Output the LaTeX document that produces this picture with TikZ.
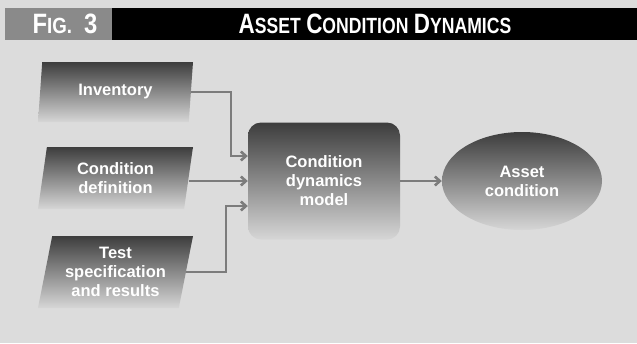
\documentclass[tikz,border=0pt]{standalone}
\usepackage{fontspec}
\setmainfont{Liberation Sans}
\usetikzlibrary{shapes.geometric,arrows.meta}
\definecolor{bg}{HTML}{DCDCDC}
\definecolor{ln}{HTML}{7C7C7C}
\definecolor{hdgray}{HTML}{8A8A8A}
\tikzset{
  shade/.style={top color=black!76, bottom color=black!16, draw=none, text=white,
    font=\bfseries\fontsize{16.5}{19}\selectfont, align=center, inner sep=0pt},
  inbox/.style={shade, trapezium, trapezium left angle=74, trapezium right angle=106,
    trapezium stretches body, minimum width=155pt},
  modelbox/.style={shade, rectangle, rounded corners=13pt, minimum width=152pt, minimum height=117pt},
  outbox/.style={shade, ellipse, minimum width=160pt, minimum height=98pt},
  arr/.style={draw=ln, line width=2.6pt, -{Straight Barb[length=5pt,width=9pt]}},
  hdtext/.style={text=white, font=\bfseries, inner sep=0pt}
}
\newcommand{\bigc}[1]{{\fontsize{28}{29}\selectfont #1}}
\newcommand{\smc}[1]{{\fontsize{22}{23}\selectfont #1}}
\begin{document}
\begin{tikzpicture}[x=1pt,y=-1pt]
\fill[bg] (0,0) rectangle (637,343);
\useasboundingbox (0,0) rectangle (637,343);
% header
\fill[black] (112,8) rectangle (637,40);
\fill[hdgray] (5,8) rectangle (112,40);
\node[hdtext] (figlbl) at (65,24) {\scalebox{0.85}[1]{\bigc{F}\smc{IG.}\hspace{14pt}\bigc{3}}};
\node[hdtext] (title) at (375,24) {\scalebox{0.8}[1]{\bigc{A}\smc{SSET}\hspace{4pt} \bigc{C}\smc{ONDITION}\hspace{4pt} \bigc{D}\smc{YNAMICS}}};
% nodes
\node[inbox, minimum height=60pt] (inv) at (115.5,92) {Inventory};
\node[inbox, minimum height=62pt] (cond) at (115.5,178) {Condition\\definition};
\node[inbox, minimum height=72pt] (test) at (115.5,272) {Test\\specification\\and results};
\node[modelbox] (model) at (324,181) {Condition\\dynamics\\model};
\node[outbox] (asset) at (522,181) {Asset\\condition};
% connectors
\draw[arr] (inv.east) -- ++(40,0) |- ([yshift=25pt]model.west);
\draw[arr] (cond.east |- model.west) -- (model.west);
\draw[arr] (test.east) -- ++(40,0) |- ([yshift=-25pt]model.west);
\draw[arr] (model.east) -- (asset.west);
\end{tikzpicture}
\end{document}
